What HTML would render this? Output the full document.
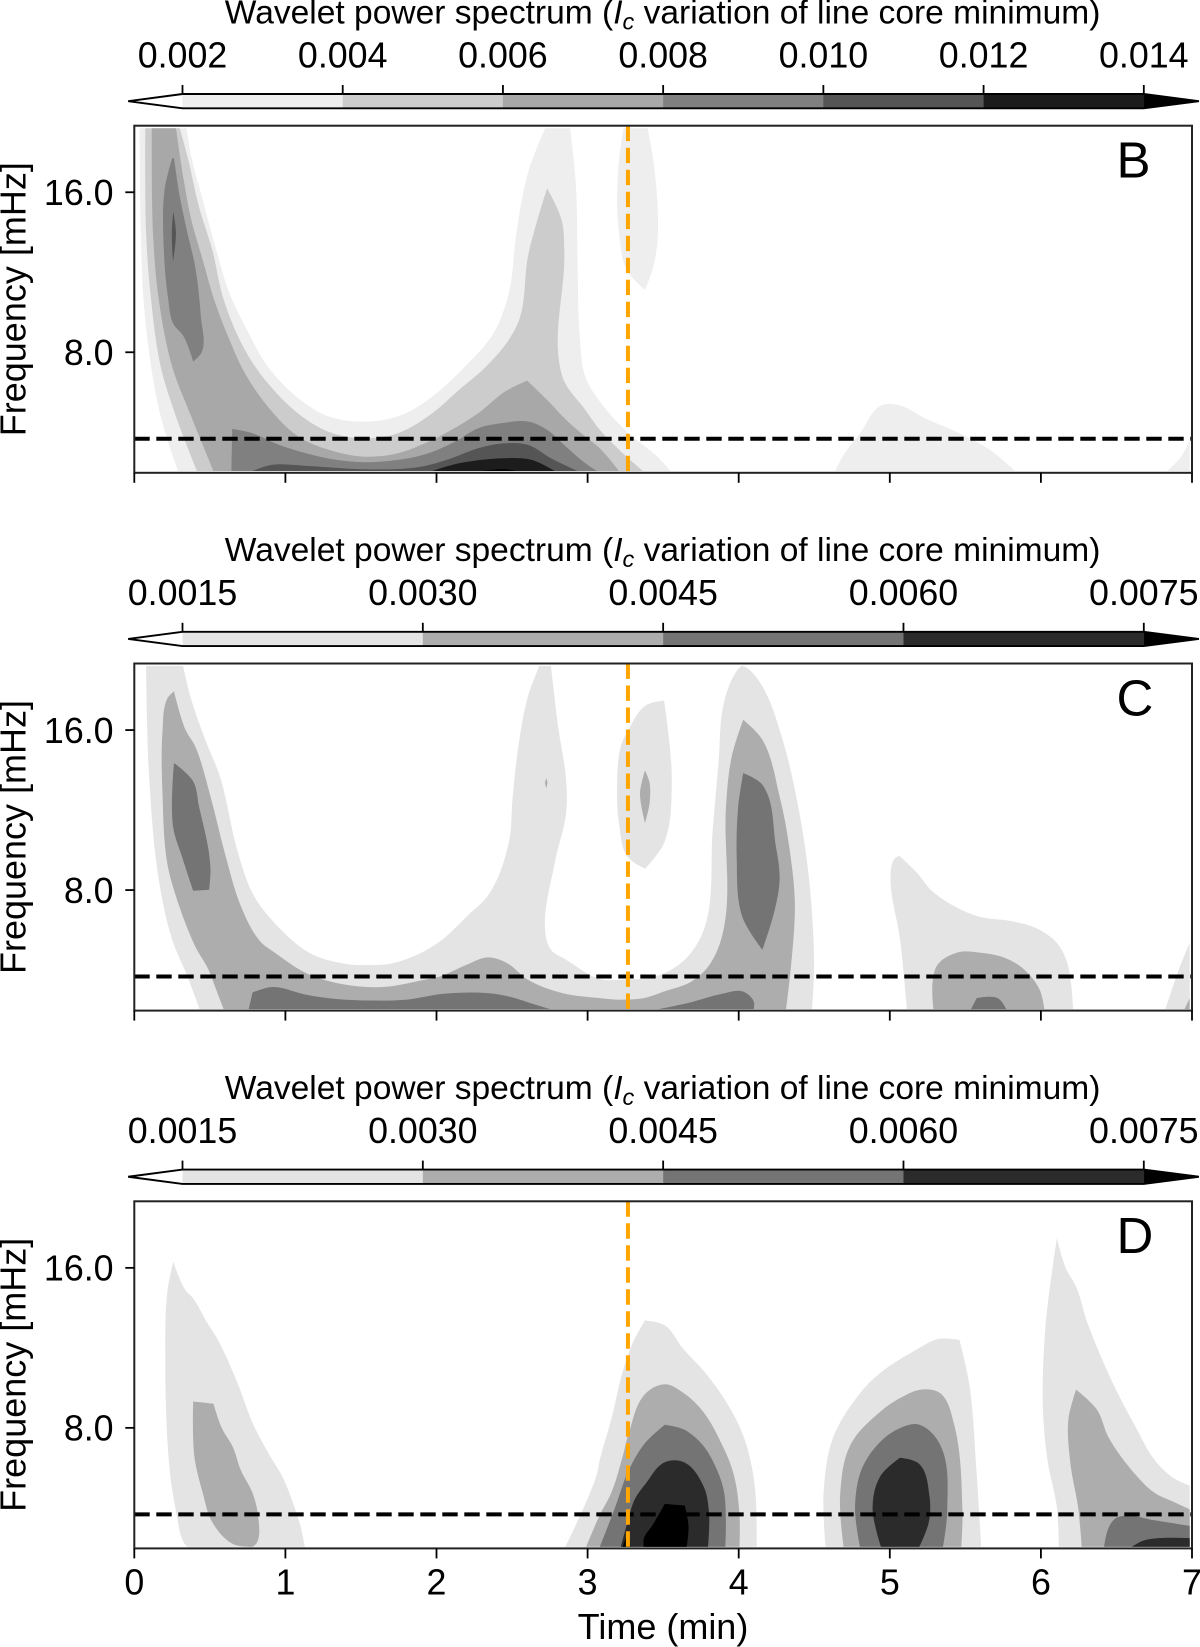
<!DOCTYPE html>
<html>
<head>
<meta charset="utf-8">
<title>Wavelet power spectra</title>
<style>
html,body{margin:0;padding:0;background:#fff;width:1200px;height:1647px;overflow:hidden}
svg{display:block}
text{font-family:"Liberation Sans",sans-serif;fill:#000;white-space:pre}
.title{font-size:33.55px}
.tick{font-size:35.8px}
.axis{font-size:36px}
.letter{font-size:51px}
</style>
</head>
<body>
<svg id="chart" width="1200" height="1647" viewBox="0 0 1200 1647" xmlns="http://www.w3.org/2000/svg">
<text class="title" x="662.6" y="23.3" text-anchor="middle">Wavelet power spectrum (<tspan font-style="italic">I</tspan><tspan font-style="italic" font-size="23.5" dy="6">c</tspan><tspan dy="-6"> variation of line core minimum)</tspan></text>
<text class="title" x="662.6" y="561.1" text-anchor="middle">Wavelet power spectrum (<tspan font-style="italic">I</tspan><tspan font-style="italic" font-size="23.5" dy="6">c</tspan><tspan dy="-6"> variation of line core minimum)</tspan></text>
<text class="title" x="662.6" y="1098.9" text-anchor="middle">Wavelet power spectrum (<tspan font-style="italic">I</tspan><tspan font-style="italic" font-size="23.5" dy="6">c</tspan><tspan dy="-6"> variation of line core minimum)</tspan></text>
<text class="axis" transform="translate(25.5,299.2) rotate(-90)" text-anchor="middle">Frequency [mHz]</text>
<text class="axis" transform="translate(25.5,837) rotate(-90)" text-anchor="middle">Frequency [mHz]</text>
<text class="axis" transform="translate(25.5,1374.8) rotate(-90)" text-anchor="middle">Frequency [mHz]</text>
<text class="axis" x="663" y="1638.8" text-anchor="middle">Time (min)</text>
<g id="marks"></g>
<text class="letter" x="1116.5" y="177.5">B</text>
<text class="letter" x="1116.5" y="715.5">C</text>
<text class="letter" x="1116.5" y="1253.2">D</text>
</svg>
<script>
// Shared axis values
const timeTicks = [0,1,2,3,4,5,6,7];
const freqTicks = [16,8];
const freqTickLabels = ['16.0','8.0'];
const dashedFreq = 5.5;      // mHz
const flareTime = 3.267;     // min

// Colourbar levels and labels
const levelsB = [0.002,0.004,0.006,0.008,0.010,0.012,0.014];
const levelLabelsB = ['0.002','0.004','0.006','0.008','0.010','0.012','0.014'];
const greysB = ['#eeeeee','#cccccc','#a8a8a8','#808080','#555555','#1c1c1c','#000000'];
const levelsCD = [0.0015,0.0030,0.0045,0.0060,0.0075];
const levelLabelsCD = ['0.0015','0.0030','0.0045','0.0060','0.0075'];
const greysCD = ['#e4e4e4','#adadad','#747474','#2b2b2b','#000000'];

// Contour outlines: [time (min), log2(frequency / mHz)]
// Panel B
const bLevel0U = [[.035,4.4],[.043,3.744],[.061,3.327],[.111,2.91],[.175,2.598],[.289,2.258],[3.549,2.258],[3.461,2.348],[3.271,2.494],[3.081,2.692],[2.985,2.848],[2.947,3.119],[2.934,3.535],[2.922,4.056],[2.884,4.4],[2.719,4.4],[2.605,4.119],[2.529,3.744],[2.478,3.369],[2.377,3.119],[2.187,2.91],[1.972,2.723],[1.77,2.608],[1.542,2.567],[1.289,2.598],[1.086,2.713],[.884,2.91],[.757,3.119],[.63,3.369],[.542,3.64],[.453,3.952],[.377,4.223],[.347,4.4]];
const bLevel0Oval = [[3.238,4.4],[3.397,4.4],[3.435,4.202],[3.466,3.848],[3.461,3.681],[3.435,3.535],[3.38,3.39],[3.258,3.515],[3.208,3.744],[3.195,3.952],[3.208,4.202]];
const bLevel0Bump = [[4.638,2.258],[4.701,2.369],[4.803,2.494],[4.942,2.667],[5.068,2.667],[5.233,2.587],[5.486,2.483],[5.663,2.39],[5.828,2.258]];
const bLevel0Corner = [[6.835,2.258],[6.929,2.348],[6.985,2.452],[6.985,2.258]];
const bLevel1U = [[.073,4.4],[.078,3.744],[.111,3.327],[.175,2.91],[.276,2.598],[.415,2.258],[3.365,2.258],[3.233,2.369],[3.081,2.515],[2.985,2.64],[2.833,2.848],[2.846,3.64],[2.828,3.827],[2.732,4.025],[2.668,3.827],[2.605,3.598],[2.554,3.223],[2.478,3.077],[2.327,2.91],[2.149,2.765],[1.972,2.619],[1.744,2.494],[1.542,2.463],[1.314,2.494],[1.111,2.598],[.884,2.806],[.732,3.015],[.592,3.327],[.516,3.64],[.428,3.91],[.352,4.223],[.301,4.4]];
const bLevel2U = [[.116,4.4],[.124,3.744],[.162,3.327],[.251,2.91],[.377,2.598],[.524,2.258],[3.208,2.258],[3.081,2.4],[2.985,2.473],[2.858,2.577],[2.732,2.702],[2.6,2.823],[2.453,2.754],[2.276,2.619],[2.099,2.515],[1.972,2.452],[1.744,2.369],[1.516,2.348],[1.289,2.39],[1.086,2.473],[.884,2.66],[.732,2.869],[.63,3.077],[.529,3.327],[.453,3.577],[.377,3.827],[.327,4.077],[.276,4.4]];
const bLevel3Upper = [[.25,4.213],[.2,4.015],[.195,3.64],[.225,3.327],[.256,3.181],[.327,3.098],[.39,2.942],[.448,3.004],[.441,3.223],[.403,3.535],[.352,3.744],[.301,3.973],[.263,4.213]];
const bLevel3Lower = [[.643,2.258],[.648,2.521],[.782,2.494],[.959,2.421],[1.137,2.369],[1.314,2.331],[1.516,2.313],[1.744,2.327],[1.947,2.369],[2.124,2.442],[2.276,2.525],[2.428,2.556],[2.605,2.567],[2.732,2.515],[2.858,2.41],[2.985,2.306],[3.061,2.258]];
const bLevel4Sliver = [[.258,3.879],[.248,3.744],[.256,3.567],[.276,3.744]];
const bLevel4Lower = [[.782,2.258],[.909,2.296],[1.137,2.29],[1.516,2.269],[1.896,2.285],[2.099,2.338],[2.276,2.4],[2.453,2.431],[2.605,2.421],[2.757,2.338],[2.934,2.258]];
const bLevel5Lower = [[1.972,2.258],[2.149,2.306],[2.453,2.338],[2.63,2.327],[2.782,2.258]];
const bLevel6Lower = [[2.301,2.258],[2.453,2.269],[2.529,2.258]];
const panelBContours = [bLevel0U,bLevel0Oval,bLevel0Bump,bLevel0Corner,bLevel1U,bLevel2U,bLevel3Upper,bLevel3Lower,bLevel4Sliver,bLevel4Lower,bLevel5Lower,bLevel6Lower];
const panelBLevels = [0,0,0,0,1,2,3,3,4,4,5,6];

// Panel C
const cLevel0U = [[.078,4.402],[.099,3.69],[.162,3.065],[.251,2.69],[.352,2.46],[.433,2.254],[4.486,2.254],[4.499,2.544],[4.461,3.106],[4.372,3.627],[4.271,4.002],[4.157,4.273],[4.056,4.388],[4.023,4.402],[3.992,4.377],[3.904,4.179],[3.866,3.794],[3.828,3.377],[3.777,2.773],[3.663,2.585],[3.511,2.481],[3.385,2.45],[3.233,2.44],[3.081,2.444],[2.858,2.565],[2.757,2.627],[2.719,2.752],[2.782,3.169],[2.858,3.481],[2.858,3.69],[2.808,4.002],[2.757,4.402],[2.681,4.402],[2.605,4.21],[2.542,3.898],[2.504,3.585],[2.478,3.294],[2.352,2.981],[2.2,2.835],[2.023,2.679],[1.871,2.596],[1.694,2.54],[1.542,2.531],[1.39,2.54],[1.162,2.606],[.909,2.815],[.782,2.981],[.681,3.252],[.567,3.71],[.478,3.919],[.377,4.19],[.322,4.402]];
const cLevel0Oval = [[3.195,3.585],[3.22,3.898],[3.271,4.002],[3.385,4.154],[3.506,4.185],[3.557,3.69],[3.506,3.294],[3.38,3.133],[3.263,3.21],[3.208,3.419]];
const cLevel0Lobe = [[5.063,3.215],[5.03,3.194],[5.005,3.085],[5.068,2.69],[5.114,2.254],[6.213,2.254],[6.175,2.544],[6.106,2.669],[5.967,2.763],[5.815,2.804],[5.587,2.835],[5.41,2.908],[5.271,3.002],[5.182,3.106]];
const cLevel0Corner = [[6.823,2.254],[6.929,2.544],[6.985,2.669],[6.985,2.254]];
const cLevel1U = [[.263,4.242],[.218,4.196],[.187,4.002],[.187,3.585],[.218,3.169],[.276,2.96],[.403,2.648],[.491,2.502],[.542,2.377],[.592,2.254],[4.314,2.254],[4.372,2.898],[4.334,3.273],[4.271,3.585],[4.157,3.94],[4.03,4.065],[3.954,3.835],[3.916,3.523],[3.904,2.773],[3.815,2.544],[3.689,2.429],[3.511,2.367],[3.372,2.325],[3.208,2.315],[3.081,2.325],[2.833,2.356],[2.605,2.44],[2.466,2.544],[2.339,2.579],[2.2,2.533],[2.023,2.46],[1.896,2.435],[1.694,2.398],[1.542,2.394],[1.339,2.419],[1.137,2.481],[.934,2.606],[.833,2.679],[.706,2.898],[.605,3.21],[.504,3.585],[.403,3.898],[.339,4.002]];
const cLevel1Oval = [[3.38,3.748],[3.347,3.606],[3.38,3.419],[3.41,3.544],[3.41,3.669]];
const cLevel1Sliver = [[2.727,3.7],[2.719,3.669],[2.727,3.638],[2.734,3.669]];
const cLevel1Lobe = [[5.289,2.254],[5.309,2.523],[5.448,2.61],[5.587,2.61],[5.765,2.575],[5.891,2.502],[5.992,2.377],[6.023,2.254]];
const cLevel1Corner = [[6.95,2.254],[6.985,2.325],[6.985,2.254]];
const cLevel2Upper = [[.263,3.794],[.256,3.398],[.322,3.19],[.39,2.996],[.496,3.002],[.504,3.127],[.491,3.252],[.428,3.523],[.39,3.679]];
const cLevel2Lower = [[.757,2.254],[.782,2.36],[.914,2.394],[1.137,2.346],[1.339,2.319],[1.542,2.31],[1.795,2.315],[2.048,2.352],[2.339,2.356],[2.478,2.335],[2.656,2.283],[2.757,2.254]];
const cLevel2LowerRight = [[3.461,2.254],[3.663,2.294],[3.891,2.352],[4.023,2.367],[4.099,2.304],[4.099,2.254]];
const cLevel2Hump = [[4.03,3.731],[3.997,3.523],[3.987,3.21],[4.023,2.835],[4.157,2.627],[4.233,2.856],[4.271,3.065],[4.246,3.273],[4.157,3.658]];
const cLevel2Lobe = [[5.537,2.254],[5.575,2.325],[5.714,2.325],[5.772,2.254]];
const panelCContours = [cLevel0U,cLevel0Oval,cLevel0Lobe,cLevel0Corner,cLevel1U,cLevel1Oval,cLevel1Sliver,cLevel1Lobe,cLevel1Corner,cLevel2Upper,cLevel2Lower,cLevel2LowerRight,cLevel2Hump,cLevel2Lobe];
const panelCLevels = [0,0,0,0,1,1,1,1,1,2,2,2,2,2];

// Panel D
const dLevel0Left = [[.258,4.039],[.22,3.86],[.205,3.4],[.218,2.94],[.243,2.663],[.276,2.479],[.327,2.284],[.352,2.256],[1.129,2.256],[1.099,2.387],[1.061,2.502],[.985,2.686],[.884,2.847],[.782,3.032],[.681,3.285],[.554,3.549],[.478,3.664],[.39,3.809],[.339,3.86]];
const dLevel1Left = [[.39,3.165],[.524,3.151],[.58,2.997],[.651,2.882],[.706,2.733],[.782,2.594],[.82,2.445],[.813,2.284],[.782,2.256],[.656,2.272],[.516,2.41],[.453,2.594],[.397,2.824]];
const dLevel0Mid = [[2.853,2.256],[2.985,2.525],[3.061,2.709],[3.081,2.801],[3.157,3.055],[3.233,3.354],[3.296,3.526],[3.38,3.671],[3.511,3.641],[3.625,3.503],[3.79,3.331],[3.942,3.124],[4.043,2.917],[4.106,2.64],[4.119,2.256]];
const dLevel1Mid = [[2.99,2.256],[3.081,2.456],[3.157,2.594],[3.233,2.824],[3.271,2.962],[3.38,3.211],[3.511,3.273],[3.638,3.216],[3.765,3.101],[3.891,2.893],[3.967,2.709],[4.005,2.456],[4.005,2.256]];
const dLevel2Mid = [[3.081,2.256],[3.182,2.502],[3.271,2.733],[3.38,2.905],[3.511,3.02],[3.638,2.99],[3.765,2.889],[3.853,2.744],[3.904,2.594],[3.911,2.256]];
const dLevel3Mid = [[3.22,2.256],[3.271,2.433],[3.309,2.548],[3.385,2.652],[3.511,2.785],[3.638,2.785],[3.765,2.64],[3.803,2.479],[3.797,2.256]];
const dLevel4Mid = [[3.372,2.256],[3.372,2.307],[3.435,2.399],[3.511,2.525],[3.643,2.514],[3.668,2.387],[3.656,2.256]];
const dLevel4Small = [[3.233,2.256],[3.263,2.337],[3.284,2.256]];
const dLevel0Five = [[4.575,2.256],[4.562,2.594],[4.625,2.94],[4.803,3.216],[4.942,3.347],[5.182,3.492],[5.322,3.556],[5.461,3.549],[5.524,3.285],[5.575,2.709],[5.605,2.256]];
const dLevel1Five = [[4.694,2.256],[4.671,2.571],[4.739,2.893],[4.942,3.105],[5.081,3.193],[5.208,3.239],[5.334,3.216],[5.423,3.032],[5.481,2.479],[5.473,2.256]];
const dLevel2Five = [[4.803,2.256],[4.77,2.502],[4.815,2.744],[4.942,2.917],[5.081,3.004],[5.195,3.02],[5.334,2.893],[5.38,2.479],[5.352,2.256]];
const dLevel3Five = [[4.942,2.256],[4.886,2.502],[4.937,2.698],[5.068,2.813],[5.195,2.774],[5.263,2.571],[5.258,2.41],[5.195,2.256]];
const dLevel0Six = [[6.106,4.186],[6.165,3.998],[6.233,3.883],[6.309,3.653],[6.473,3.285],[6.625,3.009],[6.752,2.801],[6.878,2.686],[6.985,2.64],[6.985,2.256],[6.119,2.256],[6.106,2.502],[6.043,2.801],[6.013,3.124],[6.03,3.63]];
const dLevel1Six = [[6.233,3.239],[6.372,3.112],[6.448,2.94],[6.625,2.709],[6.752,2.594],[6.878,2.537],[6.985,2.491],[6.985,2.256],[6.271,2.256],[6.246,2.502],[6.195,2.778],[6.182,3.055]];
const dLevel2Six = [[6.418,2.256],[6.448,2.376],[6.499,2.438],[6.587,2.45],[6.752,2.422],[6.985,2.387],[6.985,2.256]];
const dLevel3Six = [[6.6,2.256],[6.676,2.295],[6.777,2.311],[6.985,2.311],[6.985,2.256]];
const panelDContours = [dLevel0Left,dLevel1Left,dLevel0Mid,dLevel1Mid,dLevel2Mid,dLevel3Mid,dLevel4Mid,dLevel4Small,dLevel0Five,dLevel1Five,dLevel2Five,dLevel3Five,dLevel0Six,dLevel1Six,dLevel2Six,dLevel3Six];
const panelDLevels = [0,1,0,1,2,3,4,4,0,1,2,3,0,1,2,3];

const NS = 'http://www.w3.org/2000/svg';
const root = document.getElementById('marks');
const AX_L = 134.3, AX_R = 1192, AX_H = 347.1, PX_PER_MIN = (AX_R - AX_L) / 7, PX_PER_OCT = 160, LOG_TOP = 4.416;
const CB_L = 182.5, CB_R = 1143.8, CB_TIP_L = 128.2, CB_TIP_R = 1198.9, CB_H = 14.3;
const DATA_LOG_MIN = 2.256, DATA_LOG_MAX = 4.402, DATA_T_MAX = 6.985;

function make(tag, attrs) {
  const n = document.createElementNS(NS, tag);
  for (const k in attrs) n.setAttribute(k, attrs[k]);
  root.appendChild(n);
  return n;
}
const xOf = t => AX_L + t * PX_PER_MIN;

// Smooth closed path through the scaled contour vertices; sharp turns and
// vertices on the data boundary stay as corners.
function contourPath(pts, yOf) {
  const n = pts.length;
  const P = pts.map(p => [xOf(p[0]), yOf(p[1])]);
  const dirs = P.map((p, i) => {
    const raw = pts[i];
    if (raw[1] < DATA_LOG_MIN + .006 || raw[1] > DATA_LOG_MAX - .006 || raw[0] > DATA_T_MAX - .003) return null;
    const a = P[(i + n - 1) % n], b = P[(i + 1) % n];
    let ix = p[0] - a[0], iy = p[1] - a[1], ox = b[0] - p[0], oy = b[1] - p[1];
    const il = Math.hypot(ix, iy) || 1, ol = Math.hypot(ox, oy) || 1;
    ix /= il; iy /= il; ox /= ol; oy /= ol;
    if (ix * ox + iy * oy < 0.55) return null;
    const sx = ix + ox, sy = iy + oy, sl = Math.hypot(sx, sy) || 1;
    return [sx / sl, sy / sl];
  });
  let d = 'M' + P[0][0].toFixed(1) + ' ' + P[0][1].toFixed(1);
  for (let i = 0; i < n; i++) {
    const j = (i + 1) % n, a = P[i], b = P[j];
    const len = Math.hypot(b[0] - a[0], b[1] - a[1]) / 3;
    const c1 = dirs[i] ? [a[0] + dirs[i][0] * len, a[1] + dirs[i][1] * len] : a;
    const c2 = dirs[j] ? [b[0] - dirs[j][0] * len, b[1] - dirs[j][1] * len] : b;
    d += 'C' + c1[0].toFixed(1) + ' ' + c1[1].toFixed(1) + ' ' + c2[0].toFixed(1) + ' ' + c2[1].toFixed(1) + ' ' + b[0].toFixed(1) + ' ' + b[1].toFixed(1);
  }
  return d + 'Z';
}

function drawPanel(id, top, contours, levelIdx, greys, levels, labels, showXLabels) {
  const cbTop = top - 31.7;
  const yOf = l => top + (LOG_TOP - l) * PX_PER_OCT;

  // colourbar
  const cbX = v => CB_L + (v - levels[0]) / (levels[levels.length - 1] - levels[0]) * (CB_R - CB_L);
  const tipL = make('polygon', {points: CB_L + ',' + cbTop + ' ' + CB_TIP_L + ',' + (cbTop + CB_H / 2) + ' ' + CB_L + ',' + (cbTop + CB_H), fill: '#fff'});
  
  
  const tipR = make('polygon', {points: CB_R + ',' + cbTop + ' ' + CB_TIP_R + ',' + (cbTop + CB_H / 2) + ' ' + CB_R + ',' + (cbTop + CB_H), fill: '#000'});
  
  
  for (let i = 0; i < levels.length - 1; i++) {
    const seg = make('rect', {x: cbX(levels[i]), y: cbTop, width: cbX(levels[i + 1]) - cbX(levels[i]) + .3, height: CB_H, fill: greys[i]});
    
    
  }
  const outline = make('polygon', {points: CB_L + ',' + cbTop + ' ' + CB_R + ',' + cbTop + ' ' + CB_TIP_R + ',' + (cbTop + CB_H / 2) + ' ' + CB_R + ',' + (cbTop + CB_H) + ' ' + CB_L + ',' + (cbTop + CB_H) + ' ' + CB_TIP_L + ',' + (cbTop + CB_H / 2), fill: 'none', stroke: '#000', 'stroke-width': 1.9});
  
  
  levels.forEach((v, i) => {
    const tk = make('line', {x1: cbX(v), x2: cbX(v), y1: cbTop, y2: cbTop - 9, stroke: '#000', 'stroke-width': 1.8});
    
    
    const lb = make('text', {x: cbX(v), y: cbTop - 26.7, 'text-anchor': 'middle', class: 'tick'});
    lb.textContent = labels[i];
    
    
  });

  // clip region of the contour data
  const defs = make('clipPath', {id: 'clip-' + id});
  const clipRect = document.createElementNS(NS, 'rect');
  clipRect.setAttribute('x', AX_L);
  clipRect.setAttribute('y', yOf(DATA_LOG_MAX));
  clipRect.setAttribute('width', AX_R - AX_L);
  clipRect.setAttribute('height', yOf(DATA_LOG_MIN) - yOf(DATA_LOG_MAX));
  defs.appendChild(clipRect);

  // filled contours
  contours.forEach((pts, i) => {
    const c = make('path', {d: contourPath(pts, yOf), fill: greys[levelIdx[i]], 'clip-path': 'url(#clip-' + id + ')'});
    
    
  });

  // reference lines
  const h = make('line', {x1: AX_L, x2: AX_R, y1: yOf(Math.log2(dashedFreq)), y2: yOf(Math.log2(dashedFreq)), stroke: '#000', 'stroke-width': 4, 'stroke-dasharray': '15.4 6.6'});
  
  
  const v = make('line', {x1: xOf(flareTime), x2: xOf(flareTime), y1: top, y2: top + AX_H, stroke: '#ffa500', 'stroke-width': 4, 'stroke-dasharray': '15.4 6.6'});
  
  

  // frame and ticks
  const frame = make('rect', {x: AX_L, y: top, width: AX_R - AX_L, height: AX_H, fill: 'none', stroke: '#222', 'stroke-width': 2});
  
  
  timeTicks.forEach(t => {
    const tk = make('line', {x1: xOf(t), x2: xOf(t), y1: top + AX_H, y2: top + AX_H + 10, stroke: '#000', 'stroke-width': 1.8});
    
    
    if (showXLabels) {
      const lb = make('text', {x: xOf(t), y: top + AX_H + 46, 'text-anchor': 'middle', class: 'tick'});
      lb.textContent = String(t);
      
      
    }
  });
  freqTicks.forEach((f, i) => {
    const y = yOf(Math.log2(f));
    const tk = make('line', {x1: AX_L - 9, x2: AX_L, y1: y, y2: y, stroke: '#000', 'stroke-width': 1.8});
    
    
    const lb = make('text', {x: 113.6, y: y + 12.8, 'text-anchor': 'end', class: 'tick'});
    lb.textContent = freqTickLabels[i];
    
    
  });
}

drawPanel('b', 125.7, panelBContours, panelBLevels, greysB, levelsB, levelLabelsB, false);
drawPanel('c', 663.5, panelCContours, panelCLevels, greysCD, levelsCD, levelLabelsCD, false);
drawPanel('d', 1201.3, panelDContours, panelDLevels, greysCD, levelsCD, levelLabelsCD, true);
</script>
</body>
</html>
